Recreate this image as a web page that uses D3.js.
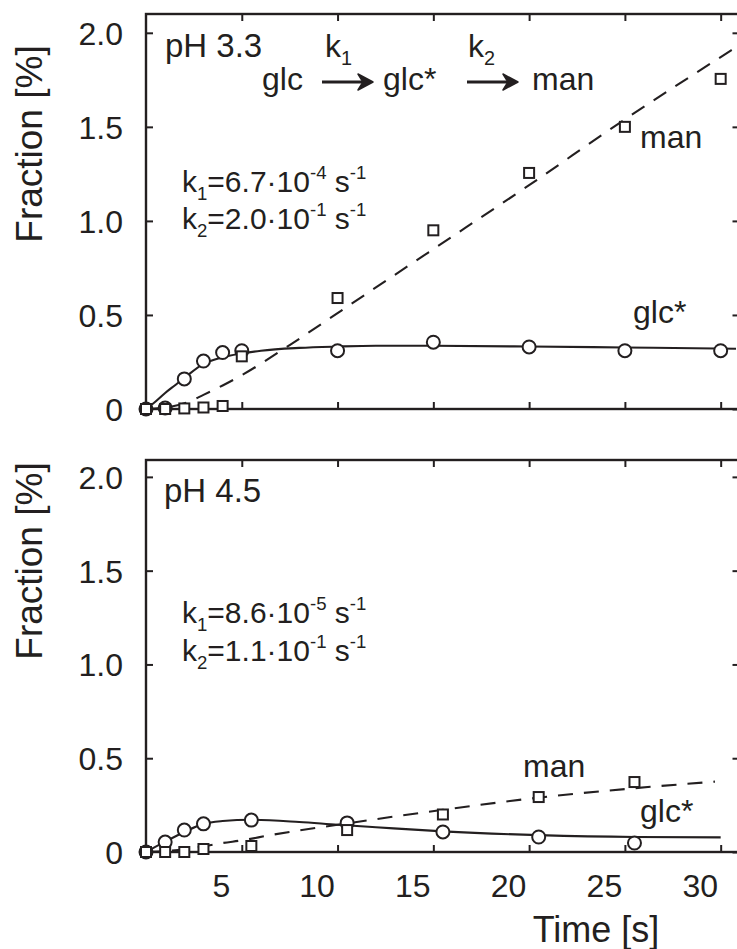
<!DOCTYPE html>
<html><head><meta charset="utf-8">
<script src="https://cdn.jsdelivr.net/npm/d3@7"></script>
<style>
html,body{margin:0;padding:0;background:#fff;}
text{font-family:"Liberation Sans",Arial,Helvetica,sans-serif;fill:#231f20;}
</style></head>
<body>
<script>
// ---------- data ----------
const yTickValues = [0, 0.5, 1, 1.5, 2];
const yTickLabels = ["0", "0.5", "1.0", "1.5", "2.0"];
const xTickValues = [5, 10, 15, 20, 25, 30];
const xTickLabels = ["5", "10", "15", "20", "25", "30"];

// pH 3.3 (top panel)
const topGlcStarT = [0, 1, 2, 3, 4, 5, 10, 15, 20, 25, 30];
const topGlcStar  = [0, 0.005, 0.16, 0.255, 0.30, 0.31, 0.31, 0.355, 0.33, 0.31, 0.31];
const topManT     = [0, 1, 2, 3, 4, 5, 10, 15, 20, 25, 30];
const topMan      = [0, 0, 0.003, 0.008, 0.016, 0.28, 0.59, 0.95, 1.255, 1.50, 1.755];
const topFitGlcStarT = [0, 0.5, 1, 1.5, 2, 3, 4, 5, 6, 8, 10, 12, 15, 20, 25, 30.8];
const topFitGlcStar  = [0, 0.04, 0.085, 0.125, 0.165, 0.24, 0.275, 0.295, 0.31, 0.325, 0.332, 0.336, 0.336, 0.332, 0.327, 0.32];
const topFitManT = [0, 1, 2, 3, 4, 5, 7.5, 10, 15, 20, 25, 30.6];
const topFitMan  = [0, 0.008, 0.03, 0.075, 0.125, 0.18, 0.34, 0.51, 0.85, 1.19, 1.54, 1.91];

// pH 4.5 (bottom panel)
const botT        = [0, 1, 2, 3, 5.5, 10.5, 15.5, 20.5, 25.5];
const botGlcStar  = [0, 0.053, 0.117, 0.15, 0.17, 0.155, 0.107, 0.08, 0.048];
const botMan      = [0, 0, 0, 0.016, 0.032, 0.117, 0.2, 0.293, 0.373];
const botFitGlcStarT = [0, 1, 2, 3, 4, 5.5, 8, 10, 12, 15.5, 20.5, 25.5, 30];
const botFitGlcStar  = [0, 0.055, 0.107, 0.15, 0.165, 0.172, 0.16, 0.145, 0.132, 0.11, 0.09, 0.08, 0.078];
const botFitManT = [0, 1, 2, 3, 4, 5, 6.5, 8, 10, 12, 15.5, 20.5, 25.5, 29.7];
const botFitMan  = [0, 0.005, 0.015, 0.03, 0.048, 0.062, 0.09, 0.115, 0.145, 0.175, 0.225, 0.29, 0.34, 0.375];

// ---------- layout ----------
const W = 737, H = 949;
const ink = "#231f20";
const svg = d3.select("body").append("svg").attr("width", W).attr("height", H)
  .style("display", "block").style("background", "#fff");

const x = d3.scaleLinear().domain([0, 30.8]).range([146, 736]);
const frameRight = 738.5;

const panels = [
  {name: "top", y: d3.scaleLinear().domain([0, 2.1]).range([409, 14]),
   circT: topGlcStarT, circ: topGlcStar, sqT: topManT, sq: topMan,
   fitGT: topFitGlcStarT, fitG: topFitGlcStar, fitMT: topFitManT, fitM: topFitMan,
   xlabels: false, titleY: 144},
  {name: "bot", y: d3.scaleLinear().domain([0, 2.09]).range([852, 460]),
   circT: botT, circ: botGlcStar, sqT: botT, sq: botMan,
   fitGT: botFitGlcStarT, fitG: botFitGlcStar, fitMT: botFitManT, fitM: botFitMan,
   xlabels: true, titleY: 561}
];

function zip(a, b) { return a.map((v, i) => [v, b[i]]); }

panels.forEach(p => {
  const y = p.y;
  const g = svg.append("g");
  const x0 = x.range()[0];
  const [yb, yt] = y.range();

  // lines
  const line = d3.line().x(d => x(d[0])).y(d => y(d[1])).curve(d3.curveMonotoneX);
  g.append("path").datum(zip(p.fitGT, p.fitG)).attr("d", line)
    .attr("fill", "none").attr("stroke", ink).attr("stroke-width", 2.1);
  g.append("path").datum(zip(p.fitMT, p.fitM)).attr("d", line)
    .attr("fill", "none").attr("stroke", ink).attr("stroke-width", 2.1)
    .attr("stroke-dasharray", "15,11");

  // axes (inward ticks)
  const ax = (a) => a.tickSizeOuter(0);
  const left = g.append("g").attr("transform", `translate(${x0},0)`)
    .call(ax(d3.axisLeft(y).tickValues(yTickValues).tickSize(-7).tickPadding(23)
      .tickFormat((d, i) => yTickLabels[i])));
  const right = g.append("g").attr("transform", `translate(${frameRight},0)`)
    .call(ax(d3.axisRight(y).tickValues(yTickValues).tickSize(-6).tickFormat("")));
  const bottom = g.append("g").attr("transform", `translate(0,${yb})`)
    .call(ax(d3.axisBottom(x).tickValues(xTickValues).tickSize(-7).tickPadding(22)
      .tickFormat((d, i) => p.xlabels ? xTickLabels[i] : "")));
  const top = g.append("g").attr("transform", `translate(0,${yt})`)
    .call(ax(d3.axisTop(x).tickValues(xTickValues).tickSize(-7).tickFormat("")));
  [left, right, bottom, top].forEach(a => {
    a.select(".domain").remove();
    a.selectAll(".tick line").attr("stroke", ink).attr("stroke-width", 2);
    a.selectAll("text").attr("font-size", 32).attr("fill", ink)
      .style("font-family", '"Liberation Sans",Arial,Helvetica,sans-serif');
  });
  left.selectAll("text").attr("dy", "0.36em");
  bottom.selectAll("text").attr("dx", -21);

  // frame
  g.append("rect").attr("x", x0).attr("y", yt).attr("width", frameRight - x0).attr("height", yb - yt)
    .attr("fill", "none").attr("stroke", ink).attr("stroke-width", 2.4);

  // markers: circles then squares
  g.selectAll("circle.m").data(zip(p.circT, p.circ)).enter().append("circle")
    .attr("cx", d => x(d[0])).attr("cy", d => y(d[1])).attr("r", 6.5)
    .attr("fill", "#fff").attr("stroke", ink).attr("stroke-width", 2);
  g.selectAll("rect.m").data(zip(p.sqT, p.sq)).enter().append("rect")
    .attr("x", d => x(d[0]) - 5).attr("y", d => y(d[1]) - 5).attr("width", 10).attr("height", 10)
    .attr("fill", "#fff").attr("stroke", ink).attr("stroke-width", 2);

  // y-axis title
  svg.append("text").attr("transform", `translate(42,${p.titleY}) rotate(-90)`)
    .attr("text-anchor", "middle").attr("font-size", 37).text("Fraction [%]");
});

// rich text helper
function rich(xp, yb, parts, size) {
  const t = svg.append("text").attr("x", xp).attr("y", yb).attr("font-size", size);
  parts.forEach(s => {
    const sp = t.append("tspan").text(s.t);
    if (s.sub) sp.attr("font-size", size * 0.62).attr("y", yb + 8);
    else if (s.sup) sp.attr("font-size", size * 0.62).attr("y", yb - 13);
    else sp.attr("y", yb);
  });
  return t;
}

const FS = 32;
// top panel annotations
rich(165, 57, [{t: "pH 3.3"}], 33);
rich(325, 57, [{t: "k"}, {t: "1", sub: true}], FS);
rich(262, 90, [{t: "glc"}], FS);
rich(383, 90, [{t: "glc*"}], FS);
rich(468, 57, [{t: "k"}, {t: "2", sub: true}], FS);
rich(532, 90, [{t: "man"}], FS);
rich(640, 148, [{t: "man"}], FS);
rich(633, 323, [{t: "glc*"}], FS);
rich(182, 192, [{t: "k"}, {t: "1", sub: true}, {t: "=6.7·10"}, {t: "-4", sup: true}, {t: " s"}, {t: "-1", sup: true}], 30);
rich(182, 229, [{t: "k"}, {t: "2", sub: true}, {t: "=2.0·10"}, {t: "-1", sup: true}, {t: " s"}, {t: "-1", sup: true}], 30);

// bottom panel annotations
rich(164, 502, [{t: "pH 4.5"}], 33);
rich(182, 623, [{t: "k"}, {t: "1", sub: true}, {t: "=8.6·10"}, {t: "-5", sup: true}, {t: " s"}, {t: "-1", sup: true}], 30);
rich(182, 661, [{t: "k"}, {t: "2", sub: true}, {t: "=1.1·10"}, {t: "-1", sup: true}, {t: " s"}, {t: "-1", sup: true}], 30);
rich(523, 777, [{t: "man"}], FS);
rich(640, 822, [{t: "glc*"}], FS);

// x-axis title
svg.append("text").attr("x", 596).attr("y", 942).attr("text-anchor", "middle")
  .attr("font-size", 36).text("Time [s]");

// reaction arrows
function arrow(xa, xb, yy) {
  svg.append("line").attr("x1", xa).attr("x2", xb - 8).attr("y1", yy).attr("y2", yy)
    .attr("stroke", ink).attr("stroke-width", 3);
  svg.append("path")
    .attr("d", `M${xb},${yy} L${xb - 15},${yy - 8} L${xb - 10},${yy} L${xb - 15},${yy + 8} Z`)
    .attr("fill", ink).attr("stroke", ink).attr("stroke-width", 1.5).attr("stroke-linejoin", "round");
}
arrow(322, 373, 82);
arrow(467, 518, 82);
</script>
</body></html>
